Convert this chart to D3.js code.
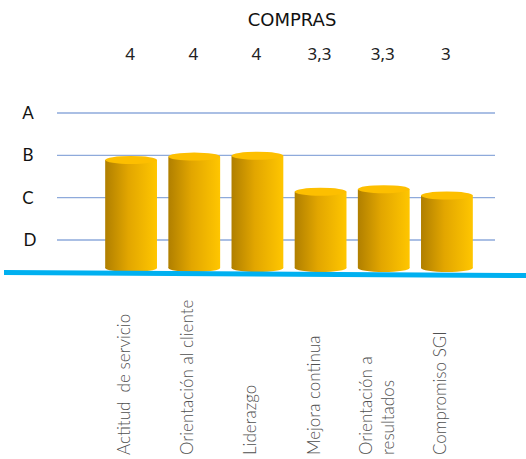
<!DOCTYPE html>
<html><head><meta charset="utf-8">
<script src="https://cdn.jsdelivr.net/npm/d3@7/dist/d3.min.js"></script>
<style>html,body{margin:0;padding:0;background:#fff;}svg{display:block;}</style>
</head><body>
<script>
const title = "COMPRAS";
const categories = ["Actitud  de servicio", "Orientación al cliente", "Liderazgo", "Mejora continua", "Orientación a|resultados", "Compromiso SGI"];
const valueLabels = ["4", "4", "4", "3,3", "3,3", "3"];
const barValues = [3.89, 3.97, 3.99, 3.14, 3.2, 3.05];
const gradeLabels = ["A", "B", "C", "D"];
const gradeValues = [5, 4, 3, 2];

const W = 526, H = 459;
const svg = d3.select("body").append("svg").attr("width", W).attr("height", H);

const x = d3.scaleBand().domain(categories).range([99.5, 478.5]).paddingInner(0.18).paddingOuter(0.09);
const y = d3.scaleLinear().domain([2, 5]).range([240, 113]);
const baseY = 268;
const ry = 4;

const defs = svg.append("defs");
const g = defs.append("linearGradient").attr("id", "cyl").attr("x1", 0).attr("x2", 1).attr("y1", 0).attr("y2", 0);
g.append("stop").attr("offset", 0).attr("stop-color", "#b07f00");
g.append("stop").attr("offset", 0.45).attr("stop-color", "#e2a600");
g.append("stop").attr("offset", 1).attr("stop-color", "#ffc600");

// title
svg.append("text").attr("x", 292).attr("y", 26).attr("text-anchor", "middle")
  .style("font-family", "DejaVu Sans").style("font-size", "18px").attr("fill", "#111").text(title);

// gridlines
const grid = svg.append("g");
grid.selectAll("line").data(gradeValues).join("line")
  .attr("x1", 57).attr("x2", 495).attr("y1", d => y(d)).attr("y2", d => y(d))
  .attr("stroke", "#8eaadb").attr("stroke-width", 1.4);

// y labels
svg.append("g").selectAll("text").data(gradeLabels).join("text")
  .attr("x", (d, i) => i === 3 ? 30 : 28).attr("y", (d, i) => y(gradeValues[i]))
  .attr("dy", "0.36em").attr("text-anchor", "middle")
  .style("font-family", "Lato").style("font-size", "17px").attr("fill", "#111").text(d => d);

// bars
const bars = svg.append("g").selectAll("g").data(categories).join("g");
bars.append("ellipse")
  .attr("cx", d => x(d) + x.bandwidth() / 2).attr("cy", baseY)
  .attr("rx", x.bandwidth() / 2).attr("ry", ry).attr("fill", "url(#cyl)");
bars.append("rect")
  .attr("x", d => x(d)).attr("width", x.bandwidth())
  .attr("y", (d, i) => y(barValues[i])).attr("height", (d, i) => baseY - y(barValues[i]))
  .attr("fill", "url(#cyl)");
bars.append("ellipse")
  .attr("cx", d => x(d) + x.bandwidth() / 2).attr("cy", (d, i) => y(barValues[i]))
  .attr("rx", x.bandwidth() / 2).attr("ry", ry).attr("fill", "#fdbf00");

// baseline
svg.append("line").attr("x1", 4).attr("y1", 272.5).attr("x2", 526).attr("y2", 275.5)
  .attr("stroke", "#00b0f0").attr("stroke-width", 5);

// value labels
svg.append("g").selectAll("text").data(valueLabels).join("text")
  .attr("x", (d, i) => x(categories[i]) + x.bandwidth() / 2 - 1).attr("y", 60)
  .attr("text-anchor", "middle")
  .style("font-family", "Noto Sans").style("font-size", "17px").attr("fill", "#222").text(d => d);

// category labels
const cat = svg.append("g").selectAll("text").data(categories).join("text")
  .attr("transform", d => `translate(${x(d) + x.bandwidth() / 2 - 7},455) rotate(-90)`)
  .attr("text-anchor", "start")
  .style("font-family", "Lato").style("font-weight", 300).style("font-size", "17px").attr("fill", "#505050")
  .style("white-space", "pre");
cat.each(function (d) {
  const lines = d.split("|");
  const t = d3.select(this);
  const off = lines.length > 1 ? -(lines.length - 1) * 11 : 0;
  lines.forEach((l, j) => {
    t.append("tspan").attr("x", 0).attr("y", off + j * 22).attr("dy", "0.35em").text(l);
  });
});
</script>
</body></html>
